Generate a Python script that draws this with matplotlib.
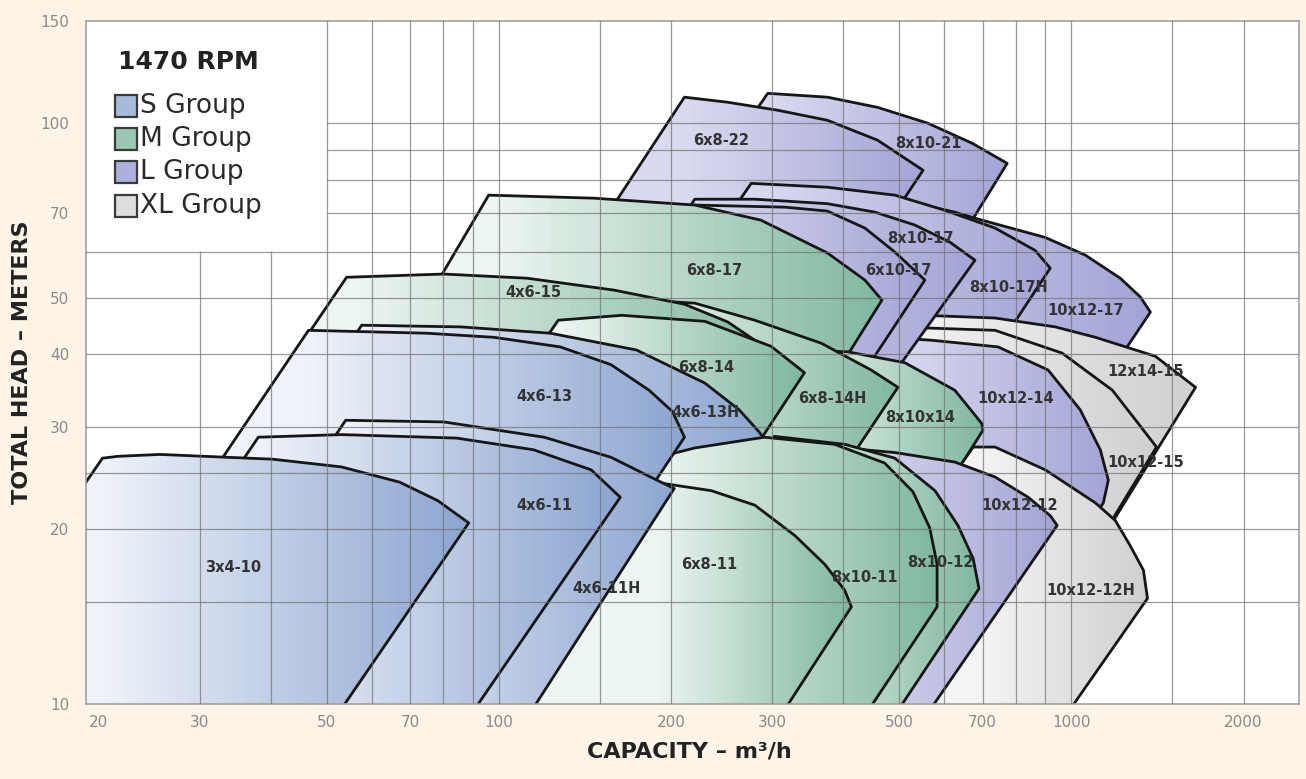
import numpy as np
import matplotlib
matplotlib.use("Agg")
import matplotlib.pyplot as plt
from matplotlib.patches import Polygon, Rectangle
from matplotlib.colors import LinearSegmentedColormap
from matplotlib.ticker import NullLocator

# ---------------- data (capacity m3/h, total head m) ----------------
# Outline of each pump coverage area; first/last points lie just below the 10 m axis.
q_8x10_21 = [50.2, 295, 375, 459, 562, 671, 773, 189]
h_8x10_21 = [9.0, 112.6, 110.9, 106.5, 100.0, 92.4, 85.3, 9.0]
q_6x8_22 = [39.6, 211, 251, 307, 375, 459, 551, 123]
h_6x8_22 = [9.0, 110.9, 108.7, 105.3, 101.2, 93.5, 83.0, 9.0]
q_10x12_17 = [64.9, 291, 402, 533, 626, 687, 900, 1058, 1218, 1321, 1375, 446]
h_10x12_17 = [9.0, 76.7, 75.5, 72.8, 70.3, 68.4, 63.6, 59.3, 54.1, 50.2, 47.3, 9.0]
q_8x10_17H = [60.4, 276, 375, 492, 602, 736, 865, 919, 270]
h_8x10_17H = [9.0, 78.8, 77.6, 75.2, 70.8, 66.0, 60.4, 56.3, 9.0]
q_12x14_15 = [155, 492, 736, 938, 1102, 1403, 1649, 704]
h_12x14_15 = [9.0, 46.9, 46.2, 44.6, 42.8, 39.7, 35.1, 9.0]
q_10x12_15 = [160, 492, 736, 964, 1180, 1310, 1409, 704]
h_10x12_15 = [9.0, 44.6, 44.0, 40.2, 34.7, 30.4, 27.7, 9.0]
q_10x12_14 = [165.5, 492, 571, 745, 911, 1037, 1124, 1161, 1138, 616]
h_10x12_14 = [9.0, 42.7, 42.3, 41.2, 37.6, 32.1, 27.4, 24.3, 22.2, 9.0]
q_8x10_17 = [50.2, 220, 280, 375, 454, 533, 614, 679, 175]
h_8x10_17 = [9.0, 74.0, 74.0, 72.7, 70.3, 66.8, 62.4, 58.1, 9.0]
q_6x10_17 = [51.0, 220, 316, 375, 436, 492, 555, 168]
h_6x10_17 = [9.0, 72.3, 71.7, 70.6, 66.0, 60.0, 53.7, 9.0]
q_6x8_17 = [27.0, 96.0, 146.7, 220, 287, 375, 436, 467, 158]
h_6x8_17 = [9.0, 75.2, 74.3, 72.3, 68.1, 59.8, 53.7, 49.6, 9.0]
q_8x10x14 = [114, 329, 407, 512, 626, 698, 701, 327]
h_8x10x14 = [9.0, 40.7, 40.4, 38.7, 34.7, 30.4, 29.6, 9.0]
q_6x8_14H = [54.2, 179, 220, 280, 366, 447, 498, 198]
h_6x8_14H = [9.0, 49.6, 49.0, 45.8, 41.8, 37.6, 35.1, 9.0]
q_4x6_15 = [15.8, 54.2, 80.1, 112, 159, 211, 251, 280, 303, 316, 123]
h_4x6_15 = [9.0, 54.3, 55.0, 54.1, 51.6, 48.8, 45.5, 42.3, 39.1, 36.9, 9.0]
q_6x8_14 = [40.7, 127, 164, 229, 299, 342, 133]
h_6x8_14 = [9.0, 45.8, 46.7, 45.6, 41.3, 37.2, 9.0]
q_4x6_13H = [19.2, 57.6, 85.8, 123, 174, 229, 263, 285, 294, 137]
h_4x6_13H = [9.0, 44.9, 44.6, 43.5, 40.7, 35.7, 32.1, 29.4, 28.2, 9.0]
q_10x12_12H = [307, 674, 736, 901, 1102, 1194, 1269, 1337, 1359, 938]
h_10x12_12H = [9.0, 27.7, 27.7, 25.3, 22.2, 20.7, 18.7, 17.0, 15.2, 9.0]
q_10x12_12 = [184, 402, 492, 626, 736, 841, 919, 945, 535]
h_10x12_12 = [9.0, 27.6, 27.1, 26.1, 24.6, 22.7, 21.1, 20.3, 9.0]
q_8x10_12 = [134, 303, 402, 492, 578, 634, 674, 690, 472]
h_8x10_12 = [9.0, 28.9, 28.0, 26.5, 23.3, 20.3, 17.8, 15.8, 9.0]
q_8x10_11 = [87.5, 187, 220, 291, 386, 472, 529, 566, 583, 583, 419]
h_8x10_11 = [9.0, 26.5, 27.6, 28.8, 28.0, 26.0, 23.2, 20.1, 17.4, 14.7, 9.0]
q_6x8_11 = [93.8, 187, 235, 280, 329, 371, 402, 413, 299]
h_6x8_11 = [9.0, 24.1, 23.3, 22.0, 19.5, 17.4, 15.7, 14.7, 9.0]
q_4x6_13 = [15.7, 46.5, 74.8, 98.0, 128, 157, 183, 201, 211, 96.4]
h_4x6_13 = [9.0, 44.0, 43.5, 42.8, 41.2, 38.4, 34.7, 31.9, 28.8, 9.0]
q_4x6_11H = [23.4, 54.0, 80.1, 120, 157, 184, 202.5, 108.4]
h_4x6_11H = [9.0, 30.8, 30.6, 28.8, 26.6, 24.6, 23.5, 9.0]
q_4x6_11 = [17.1, 38.0, 53.1, 84.4, 115, 145, 163, 85.5]
h_4x6_11 = [9.0, 28.8, 29.1, 28.7, 27.4, 25.3, 22.7, 9.0]
q_3x4_10 = [9.55, 20.3, 21.6, 25.6, 33.4, 40.2, 53.1, 67.1, 78.2, 88.6, 50.0]
h_3x4_10 = [9.0, 26.5, 26.7, 26.9, 26.6, 26.4, 25.6, 24.1, 22.4, 20.5, 9.0]

# drawing order: back to front
shapes = [
    ("8x10-21", "L", q_8x10_21, h_8x10_21),
    ("6x8-22", "L", q_6x8_22, h_6x8_22),
    ("10x12-17", "L", q_10x12_17, h_10x12_17),
    ("8x10-17H", "L", q_8x10_17H, h_8x10_17H),
    ("12x14-15", "XL", q_12x14_15, h_12x14_15),
    ("10x12-15", "XL", q_10x12_15, h_10x12_15),
    ("10x12-14", "L", q_10x12_14, h_10x12_14),
    ("8x10-17", "L", q_8x10_17, h_8x10_17),
    ("6x10-17", "L", q_6x10_17, h_6x10_17),
    ("6x8-17", "M", q_6x8_17, h_6x8_17),
    ("8x10x14", "M", q_8x10x14, h_8x10x14),
    ("6x8-14H", "M", q_6x8_14H, h_6x8_14H),
    ("4x6-15", "M", q_4x6_15, h_4x6_15),
    ("6x8-14", "M", q_6x8_14, h_6x8_14),
    ("4x6-13H", "S", q_4x6_13H, h_4x6_13H),
    ("10x12-12H", "XL", q_10x12_12H, h_10x12_12H),
    ("10x12-12", "L", q_10x12_12, h_10x12_12),
    ("8x10-12", "M", q_8x10_12, h_8x10_12),
    ("8x10-11", "M", q_8x10_11, h_8x10_11),
    ("6x8-11", "M", q_6x8_11, h_6x8_11),
    ("4x6-13", "S", q_4x6_13, h_4x6_13),
    ("4x6-11H", "S", q_4x6_11H, h_4x6_11H),
    ("4x6-11", "S", q_4x6_11, h_4x6_11),
    ("3x4-10", "S", q_3x4_10, h_3x4_10),
]

label_names = ["3x4-10", "4x6-11", "4x6-11H", "4x6-13", "4x6-13H", "4x6-15",
               "6x8-17", "6x8-14", "6x8-14H", "8x10x14", "6x8-11", "8x10-11",
               "8x10-12", "6x8-22", "8x10-21", "8x10-17", "6x10-17", "8x10-17H",
               "10x12-17", "12x14-15", "10x12-14", "10x12-15", "10x12-12", "10x12-12H"]
label_q = [34.4, 120, 154, 120, 230, 115, 238, 230, 383, 544, 233, 436,
           590, 245, 562, 544, 498, 776, 1058, 1348, 798, 1348, 814, 1080]
label_h = [17.2, 22.0, 15.8, 33.8, 31.8, 51.2, 55.8, 38.0, 33.6, 31.1, 17.4, 16.5,
           17.5, 93.5, 92.4, 63.4, 55.8, 52.2, 47.6, 37.3, 33.6, 26.1, 22.0, 15.7]

x_ticks = [20, 30, 50, 70, 100, 200, 300, 500, 700, 1000, 2000]
y_ticks = [10, 20, 30, 40, 50, 70, 100, 150]
grid_q = [30, 40, 50, 60, 70, 80, 90, 100, 150, 200, 300, 400, 500, 600, 700, 800, 900, 1000, 1500, 2000]
grid_h = [15, 20, 25, 30, 40, 50, 60, 70, 80, 90, 100]

groups = ["S", "M", "L", "XL"]
group_labels = ["S Group", "M Group", "L Group", "XL Group"]
group_light = {"S": "#eef2f9", "M": "#eef6f1", "L": "#d9daef", "XL": "#f5f5f5"}
group_dark = {"S": "#8ca5d0", "M": "#7fb79f", "L": "#a3a4d5", "XL": "#cfcfcf"}
legend_face = {"S": "#a6bbdc", "M": "#9cc8b3", "L": "#adafdc", "XL": "#dedede"}

# ---------------- figure ----------------
fig = plt.figure(figsize=(13.06, 7.79), dpi=100, facecolor="#fdf4e7")
ax = fig.add_axes([86 / 1306, 75 / 779, 1213 / 1306, 683 / 779])
ax.set_facecolor("white")
ax.set_xscale("log")
ax.set_yscale("log")
ax.set_xlim(19, 2500)
ax.set_ylim(10, 150)

cmaps = {g: LinearSegmentedColormap.from_list(g, [group_light[g], group_dark[g]]) for g in groups}

for i, (name, grp, q, h) in enumerate(shapes):
    qa = np.asarray(q, float)
    ha = np.asarray(h, float)
    z = 2 + i * 0.01
    patch = Polygon(np.column_stack([qa, ha]), closed=True, facecolor="none",
                    edgecolor="#161616", lw=2.0, joinstyle="round", zorder=z + 0.005)
    ax.add_patch(patch)
    qs, qe = qa[1], qa[1:-1].max()
    edges = np.geomspace(qa.min() * 0.98, qa.max() * 1.02, 80)
    centers = np.sqrt(edges[:-1] * edges[1:])
    t = np.clip((np.log(centers) - np.log(qs)) / (np.log(qe) - np.log(qs)), 0, 1)
    mesh = ax.pcolormesh(edges, [8.0, 200.0], t[None, :], cmap=cmaps[grp], vmin=0, vmax=1,
                         shading="flat", zorder=z, edgecolors="none", antialiased=False)
    mesh.set_clip_path(patch)

# grid (kept out of the legend box)
for gq in grid_q:
    top = 60 if gq < 50 else 150
    ax.plot([gq, gq], [10, top], color="#707070", lw=0.9, alpha=0.7, zorder=3)
for gh in grid_h:
    left = 50 if gh > 60 else 19
    ax.plot([left, 2500], [gh, gh], color="#707070", lw=0.9, alpha=0.7, zorder=3)

for name, lq, lh in zip(label_names, label_q, label_h):
    ax.text(lq, lh, name, ha="center", va="center", fontsize=10.5, fontweight="bold",
            color="#333333", zorder=4)

# axes styling
ax.set_xticks(x_ticks)
ax.set_xticklabels([str(v) for v in x_ticks])
ax.set_yticks(y_ticks)
ax.set_yticklabels([str(v) for v in y_ticks])
ax.xaxis.set_minor_locator(NullLocator())
ax.yaxis.set_minor_locator(NullLocator())
ax.tick_params(length=0, labelsize=11, labelcolor="#8a8a8a")
ax.tick_params(axis="x", pad=8)
ax.tick_params(axis="y", pad=12)
for s in ax.spines.values():
    s.set_color("#a0a0a0")
    s.set_linewidth(1.2)

# legend
ax.text(0.0264, 0.94, "1470 RPM", transform=ax.transAxes, ha="left", va="center",
        fontsize=18, fontweight="bold", color="#222222", zorder=6)
leg_y = [0.8755, 0.8272, 0.7789, 0.7291]
for g, lab, yy in zip(groups, group_labels, leg_y):
    ax.add_patch(Rectangle((0.0239, yy - 0.0161), 0.0181, 0.0322, transform=ax.transAxes,
                           facecolor=legend_face[g], edgecolor="#3a3a3a", lw=1.6, zorder=6))
    ax.text(0.0445, yy, lab, transform=ax.transAxes, ha="left", va="center",
            fontsize=19, color="#2a2a2a", zorder=6)

fig.text(0.017, 0.535, "TOTAL HEAD – METERS", rotation=90, ha="center", va="center",
         fontsize=16, fontweight="bold", color="#222222")
fig.text(0.528, 0.035, "CAPACITY – m³/h", ha="center", va="center",
         fontsize=16, fontweight="bold", color="#222222")

fig.savefig("out.png", dpi=100, facecolor=fig.get_facecolor())
